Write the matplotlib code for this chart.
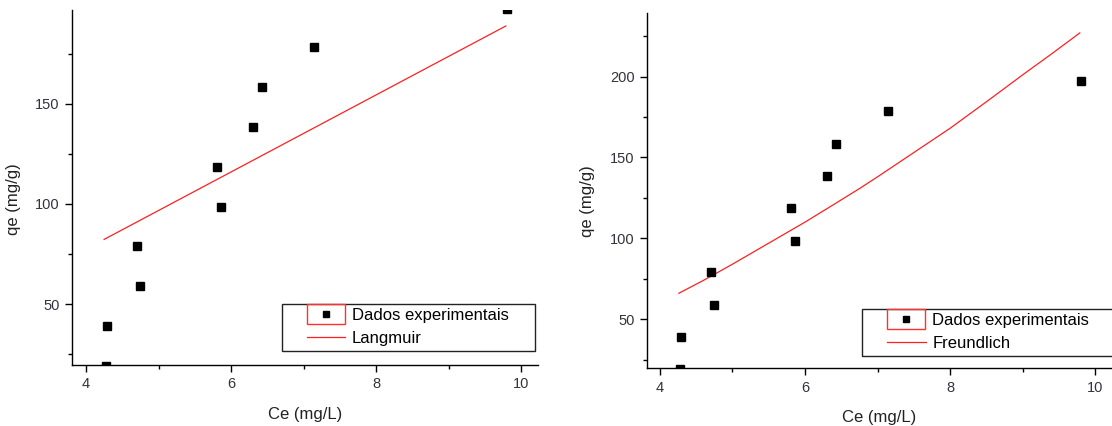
import numpy as np
import matplotlib
matplotlib.use("Agg")
import matplotlib.pyplot as plt
from matplotlib.patches import Rectangle
from matplotlib.ticker import MultipleLocator

plt.rcParams["font.family"] = ["Liberation Sans", "DejaVu Sans"]

# Experimental equilibrium data
ce = [4.27, 4.29, 4.71, 4.74, 5.80, 5.86, 6.30, 6.43, 7.14, 9.81]
qe = [19.0, 39.0, 79.0, 59.0, 118.5, 98.5, 138.5, 158.5, 178.5, 197.5]

# Langmuir fit (straight over this range)
ce_lang = [4.25, 9.79]
q_lang = [82.3, 189.0]

# Freundlich fit curve
ce_freu = [4.26, 4.6, 5.0, 5.5, 6.0, 6.4, 6.76, 7.0, 7.5, 8.0, 8.55, 9.0, 9.4, 9.79]
q_freu = [66, 74, 84, 97, 110, 121, 131, 138, 153, 168, 186, 201, 214, 227]

W, H = 1112, 426
fig = plt.figure(figsize=(W / 100, H / 100), dpi=100)

tick_col = "#33333f"


def setup(ax, xlim, ylim, ymaj, ylab_pos):
    ax.set_xlim(*xlim)
    ax.set_ylim(*ylim)
    for s in ["top", "right"]:
        ax.spines[s].set_visible(False)
    for s in ["left", "bottom"]:
        ax.spines[s].set_linewidth(1.0)
    ax.xaxis.set_major_locator(MultipleLocator(2))
    ax.xaxis.set_minor_locator(MultipleLocator(1))
    ax.yaxis.set_major_locator(MultipleLocator(ymaj))
    ax.yaxis.set_minor_locator(MultipleLocator(ymaj / 2))
    ax.tick_params(which="major", direction="out", length=5, width=1,
                   labelsize=10.5, labelcolor=tick_col, pad=4)
    ax.tick_params(which="minor", direction="out", length=3, width=1)
    ax.set_xlabel("Ce (mg/L)", fontsize=12, color="#222222", labelpad=11)
    ax.set_ylabel("qe (mg/g)", fontsize=12, color="#222222")
    ax.yaxis.set_label_coords(*ylab_pos)


def panel(rect, xlim, ylim, ymaj, ylab_pos, fit_x, fit_y, fit_name, anchor):
    ax = fig.add_axes(rect)
    setup(ax, xlim, ylim, ymaj, ylab_pos)
    ax.plot(ce, qe, linestyle="none", marker="s", markersize=6,
            color="black", label="Dados experimentais", zorder=3)
    ax.plot(fit_x, fit_y, color="#ff2020", linewidth=0.9, label=fit_name)
    leg = ax.legend(loc="upper left", bbox_to_anchor=anchor, frameon=False,
                    fontsize=12, borderpad=0, borderaxespad=0,
                    handlelength=2.3, handletextpad=0.4, labelspacing=0.45,
                    markerscale=0.65, numpoints=1)
    return ax, leg


ax1, leg1 = panel([72 / W, 61 / H, 466 / W, 355 / H], (3.807, 10.234), (19.5, 197.0), 50,
                  (-0.109, 0.468), ce_lang, q_lang, "Langmuir",
                  ((306.7 - 72) / 466, (365 - 308) / 355))
ax2, leg2 = panel([647.3 / W, 58 / H, 463.7 / W, 355 / H], (3.825, 10.22), (19.8, 239.3), 50,
                  (-0.113, 0.471), ce_freu, q_freu, "Freundlich",
                  ((887.3 - 647.3) / 463.7, (368 - 313) / 355))

fig.canvas.draw()
for leg, rpad in [(leg1, 26), (leg2, 30)]:
    bb = leg.get_window_extent()
    # outer legend box, wider than its contents
    fig.patches.append(Rectangle((bb.x0 - 25, bb.y0 - 5), bb.width + 25 + rpad, bb.height + 9,
                                 transform=None, fill=False, edgecolor="#222222",
                                 linewidth=1.0, zorder=5))
    hb = leg.legend_handles[0].get_window_extent()
    cx, cy = (hb.x0 + hb.x1) / 2, (hb.y0 + hb.y1) / 2
    # red box around the scatter handle
    fig.patches.append(Rectangle((cx - 19, cy - 10), 38, 20, transform=None,
                                 fill=False, edgecolor="#ff3030", linewidth=1.0, zorder=5))

fig.savefig("out.png", dpi=100)
